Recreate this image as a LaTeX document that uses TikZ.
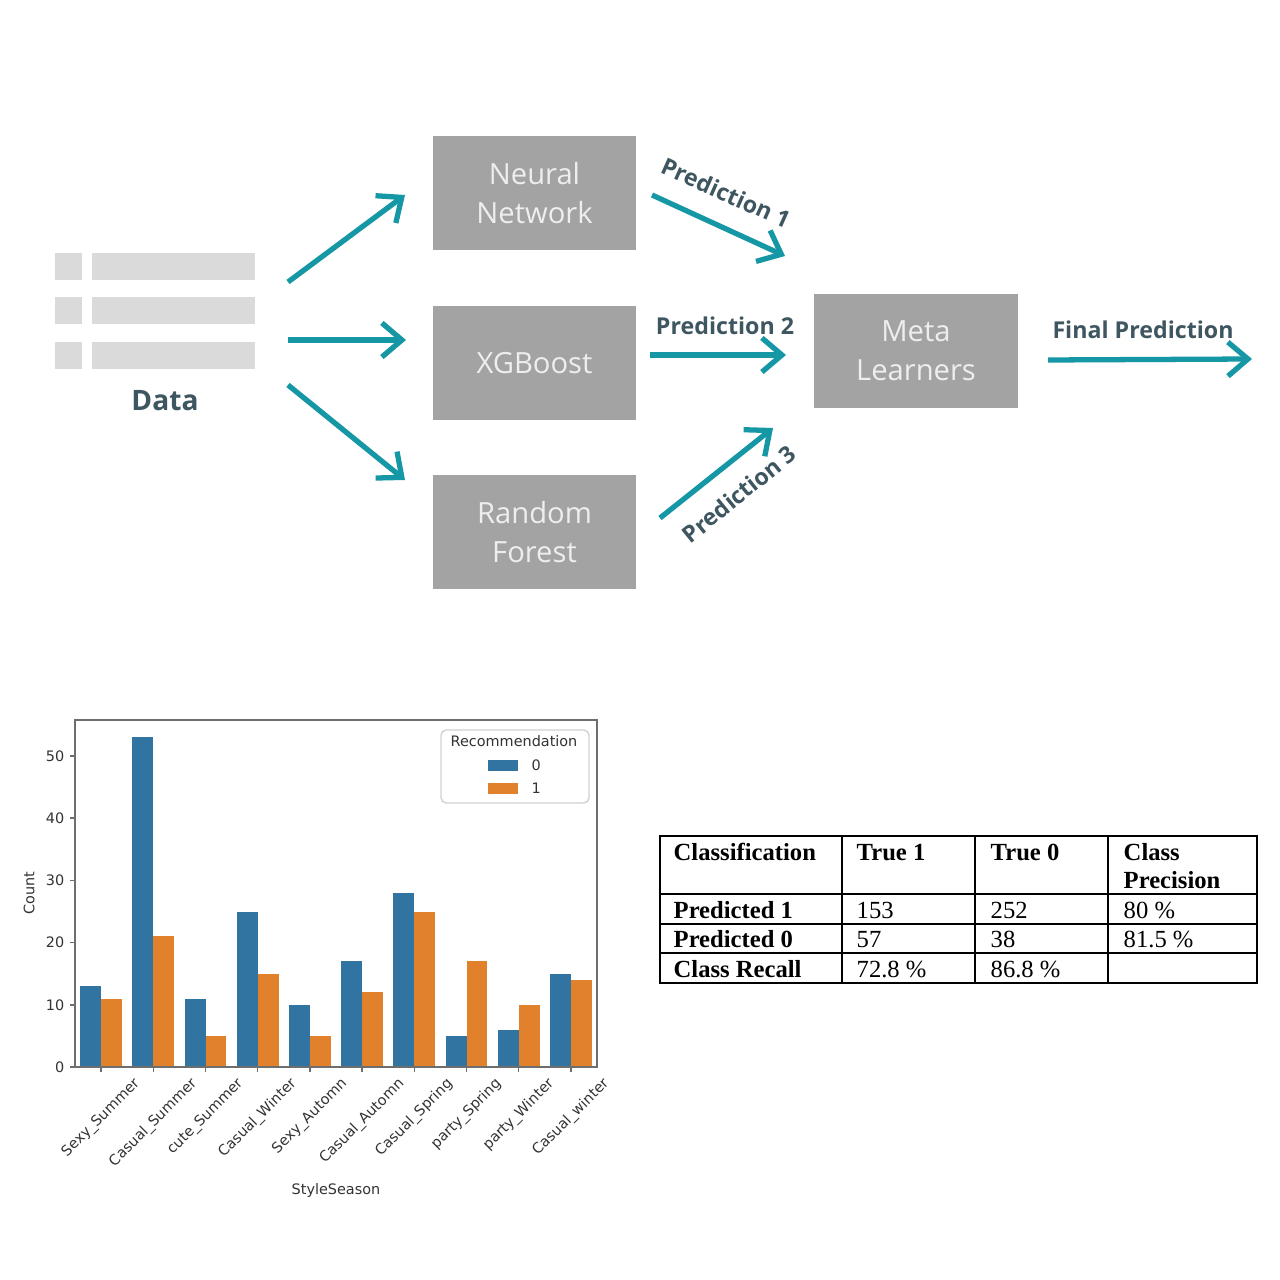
\documentclass[tikz,border=0pt]{standalone}
\usepackage{fontspec}
\usepackage{graphicx}
\setmainfont{Liberation Serif}
\newfontfamily\diagfont{Open Sans}
\newfontfamily\plotfont{DejaVu Sans}
\usetikzlibrary{arrows.meta}
\definecolor{tealA}{HTML}{1597A5}
\definecolor{boxgray}{HTML}{A3A3A3}
\definecolor{boxtext}{HTML}{EEEEEE}
\definecolor{labelcol}{HTML}{3E5660}
\definecolor{iconcol}{HTML}{DADADA}
\definecolor{barblue}{HTML}{3274A1}
\definecolor{barorange}{HTML}{E1812C}
\definecolor{axisgray}{HTML}{6E6E6E}
\tikzset{
  model/.style={fill=boxgray, minimum width=2.03cm, minimum height=1.14cm, align=center,
    text=boxtext, font=\diagfont\fontsize{8.3}{11}\selectfont, inner sep=0pt},
  iconsq/.style={fill=iconcol, minimum width=0.27cm, minimum height=0.27cm, inner sep=0pt},
  iconbar/.style={fill=iconcol, minimum width=1.63cm, minimum height=0.27cm, inner sep=0pt},
  flow/.style={draw=tealA, line width=1.5pt, -{Straight Barb[length=2mm,width=3.4mm]}},
  predlbl/.style={text=labelcol, font=\diagfont\bfseries\fontsize{6.6}{8}\selectfont, inner sep=0pt},
  plottxt/.style={font=\plotfont\fontsize{4.1}{5}\selectfont, text=black!80, inner sep=0pt},
  tabtxt/.style={font=\fontsize{7}{8.5}\selectfont, anchor=base west, inner sep=0pt},
  tabline/.style={line width=0.6pt, draw=black}
}
\begin{document}
\begin{tikzpicture}[x=0.01cm,y=-0.01cm]
\useasboundingbox[fill=white] (0,0) rectangle (1280,1280);

% ---- data icon ----
\node[iconsq] (sq1) at (68.5,266.5) {};
\node[iconsq] (sq2) at (68.5,310.5) {};
\node[iconsq] (sq3) at (68.5,355.5) {};
\node[iconbar] (bar1) at (173.5,266.5) {};
\node[iconbar] (bar2) at (173.5,310.5) {};
\node[iconbar] (bar3) at (173.5,355.5) {};
\node[text=labelcol, font=\diagfont\bfseries\fontsize{8}{10}\selectfont, inner sep=0pt] (datalbl) at (165,401) {Data};

% ---- models ----
\node[model] (nn) at (534.5,193) {Neural\\Network};
\node[model] (xgb) at (534.5,363) {XGBoost};
\node[model] (rf) at (534.5,532) {Random\\Forest};
\node[model] (meta) at (916,351) {Meta\\Learners};

% ---- arrows ----
\coordinate (a1s) at (288,282); \coordinate (a1e) at (405,195);
\coordinate (a2s) at (288,340); \coordinate (a2e) at (406,340);
\coordinate (a3s) at (288,385); \coordinate (a3e) at (405,480);
\draw[flow] (a1s) -- (a1e);
\draw[flow] (a2s) -- (a2e);
\draw[flow] (a3s) -- (a3e);

\coordinate (p1s) at (652,195); \coordinate (p1e) at (785,256);
\coordinate (p2s) at (650,355); \coordinate (p2e) at (786,355);
\coordinate (p3s) at (660,518); \coordinate (p3e) at (773,428);
\coordinate (fs) at (1048,360); \coordinate (fe) at (1252,359);
\draw[flow] (p1s) -- (p1e);
\draw[flow] (p2s) -- (p2e);
\draw[flow] (p3s) -- (p3e);
\draw[flow] (fs) -- (fe);

\node[predlbl, rotate=-24] (pl1) at (726,193) {Prediction 1};
\node[predlbl] (pl2) at (725,326) {Prediction 2};
\node[predlbl, rotate=39] (pl3) at (739,494) {Prediction 3};
\node[predlbl] (plf) at (1143,330) {Final Prediction};

% ---- bar chart ----
\foreach \b [count=\i from 0] in {13,53,11,25,10,17,28,5,6,15} {
  \fill[barblue] ({80.22+52.2*\i},1067) rectangle ({101.1+52.2*\i},{1067-6.22*\b});
}
\foreach \b [count=\i from 0] in {11,21,5,15,5,12,25,17,10,14} {
  \fill[barorange] ({101.1+52.2*\i},1067) rectangle ({121.98+52.2*\i},{1067-6.22*\b});
}
\draw[axisgray, line width=0.5pt] (75,720) rectangle (597,1067);
\foreach \v in {0,10,20,30,40,50} {
  \draw[axisgray, line width=0.4pt] (75,{1067-6.22*\v}) -- (70,{1067-6.22*\v});
  \node[plottxt, anchor=east] (yt\v) at (65,{1067-6.22*\v}) {\v};
}
\foreach \lab [count=\i from 0] in {Sexy\_Summer,Casual\_Summer,cute\_Summer,Casual\_Winter,Sexy\_Automn,Casual\_Automn,Casual\_Spring,party\_Spring,party\_Winter,Casual\_winter} {
  \draw[axisgray, line width=0.4pt] ({101.1+52.2*\i},1067) -- ({101.1+52.2*\i},1072);
  \node[plottxt, anchor=north] (xt\i) at ({101.1+52.2*\i},1076) {\rotatebox{45}{\lab}};
}
\node[plottxt, rotate=90] (ylab) at (29,893) {Count};
\node[plottxt] (xlab) at (336,1191) {StyleSeason};

% legend
\draw[draw=black!18, fill=white, rounded corners=1.5pt, line width=0.4pt] (441,730) rectangle (589,803);
\node[plottxt] (legtitle) at (514,741) {Recommendation};
\fill[barblue] (488,760) rectangle (518,771);
\fill[barorange] (488,783) rectangle (518,794);
\node[plottxt, anchor=west] (leg0) at (531,765.5) {0};
\node[plottxt, anchor=west] (leg1) at (531,788.5) {1};

% ---- table ----
\draw[tabline] (660,836) rectangle (1257,983);
\draw[tabline] (842,836) -- (842,983);
\draw[tabline] (975,836) -- (975,983);
\draw[tabline] (1108,836) -- (1108,983);
\draw[tabline] (660,894) -- (1257,894);
\draw[tabline] (660,924) -- (1257,924);
\draw[tabline] (660,953) -- (1257,953);

\node[tabtxt] (h1) at (673,860) {\textbf{Classification}};
\node[tabtxt] (h2) at (856,860) {\textbf{True 1}};
\node[tabtxt] (h3) at (990,860) {\textbf{True 0}};
\node[tabtxt] (h4a) at (1123,860) {\textbf{Class}};
\node[tabtxt] (h4b) at (1123,888) {\textbf{Precision}};

\node[tabtxt] (r1a) at (673,918) {\textbf{Predicted 1}};
\node[tabtxt] (r1b) at (856,918) {153};
\node[tabtxt] (r1c) at (990,918) {252};
\node[tabtxt] (r1d) at (1123,918) {80 \%};

\node[tabtxt] (r2a) at (673,947) {\textbf{Predicted 0}};
\node[tabtxt] (r2b) at (856,947) {57};
\node[tabtxt] (r2c) at (990,947) {38};
\node[tabtxt] (r2d) at (1123,947) {81.5 \%};

\node[tabtxt] (r3a) at (673,977) {\textbf{Class Recall}};
\node[tabtxt] (r3b) at (856,977) {72.8 \%};
\node[tabtxt] (r3c) at (990,977) {86.8 \%};
\end{tikzpicture}
\end{document}
